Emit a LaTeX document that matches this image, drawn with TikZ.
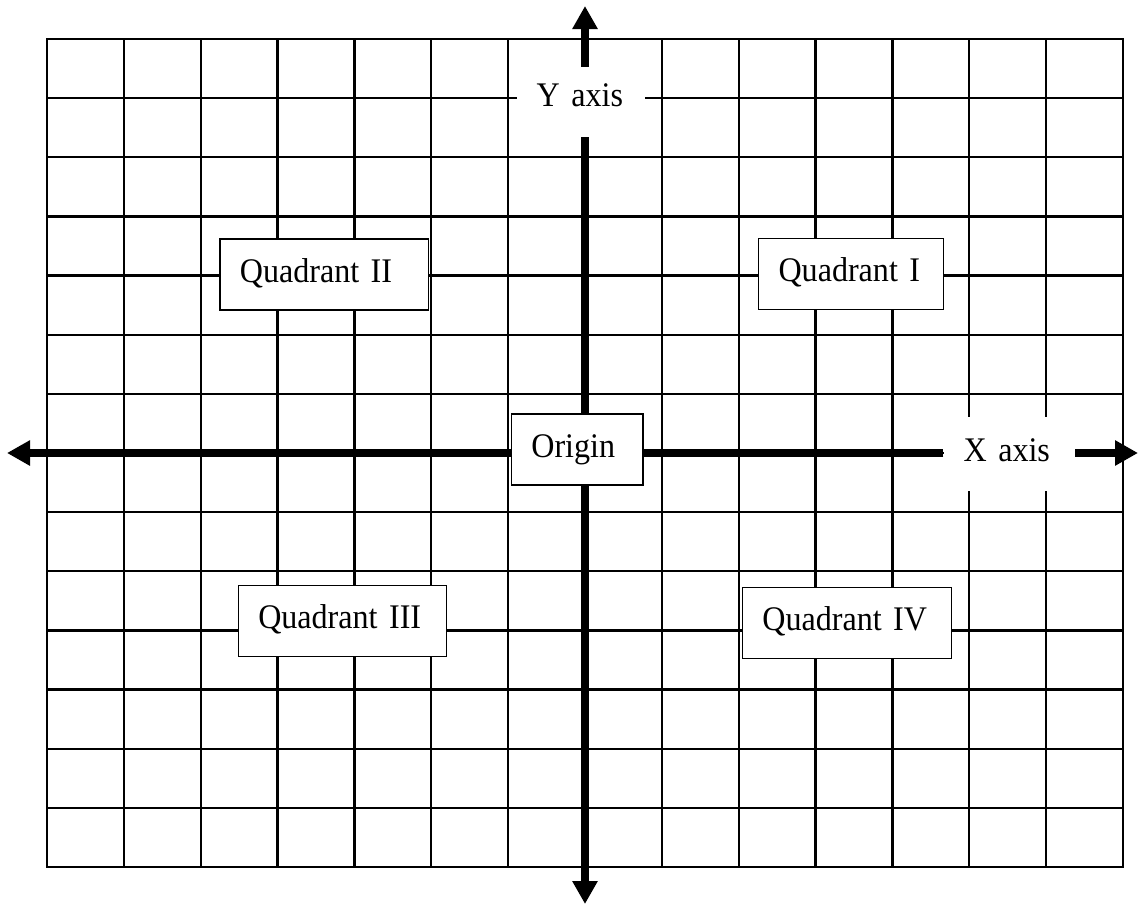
\documentclass[tikz,border=0pt]{standalone}
\usepackage{fontspec}
\setmainfont[FakeStretch=0.93,WordSpace=0.6]{Liberation Serif}
\usetikzlibrary{arrows.meta,backgrounds}
\begin{document}
\begin{tikzpicture}[x=1pt,y=-1pt,
  gridline/.style={line width=2.2pt, line cap=rect},
  axisline/.style={line width=8.5pt, -{Triangle[length=23pt,width=24pt]}},
  lbl/.style={font=\fontsize{34.5}{40}\selectfont, align=left, text height=23pt, text depth=8pt,
              inner ysep=0pt, inner xsep=20pt, anchor=west, fill=white},
  qbox/.style={lbl, draw, line width=1.3pt, minimum height=71pt},
]
\useasboundingbox (0,0) rectangle (1138,905);

% labels and boxes
\node[lbl, text width=89pt, inner xsep=19.5pt, minimum height=70pt, text depth=13.6pt] (ylab) at (517,102) {Y axis};
\node[lbl, text width=91pt, minimum height=74pt] (xlab) at (943.4,454) {X axis};
\node[qbox, text width=91.6pt] (origin) at (510.7,449.6) {Origin};
\node[qbox, text width=168.5pt] (q2) at (219.2,274.6) {Quadrant II};
\node[qbox, text width=144.8pt] (q1) at (757.9,274) {Quadrant I};
\node[qbox, text width=168.5pt] (q3) at (237.6,621.2) {Quadrant III};
\node[qbox, text width=169.1pt] (q4) at (741.7,623.2) {Quadrant IV};

\coordinate (ytop) at (585,6);
\coordinate (ybot) at (585,904);
\coordinate (xleft) at (7,453);
\coordinate (xright) at (1138,453);

\begin{scope}[on background layer]
  \foreach \i in {0,...,14} {
    \draw[gridline] ({47+\i*76.857},39) -- ({47+\i*76.857},867);
    \draw[gridline] (47,{39+\i*59.143}) -- (1123,{39+\i*59.143});
  }
  \draw[axisline] (ylab.north -| ytop) -- (ytop);
  \draw[axisline] (ylab.south -| ytop) -- (ybot);
  \draw[axisline] (xlab.west |- xleft) -- (xleft);
  \draw[axisline] (xlab.east |- xright) -- (xright);
\end{scope}
\end{tikzpicture}
\end{document}
